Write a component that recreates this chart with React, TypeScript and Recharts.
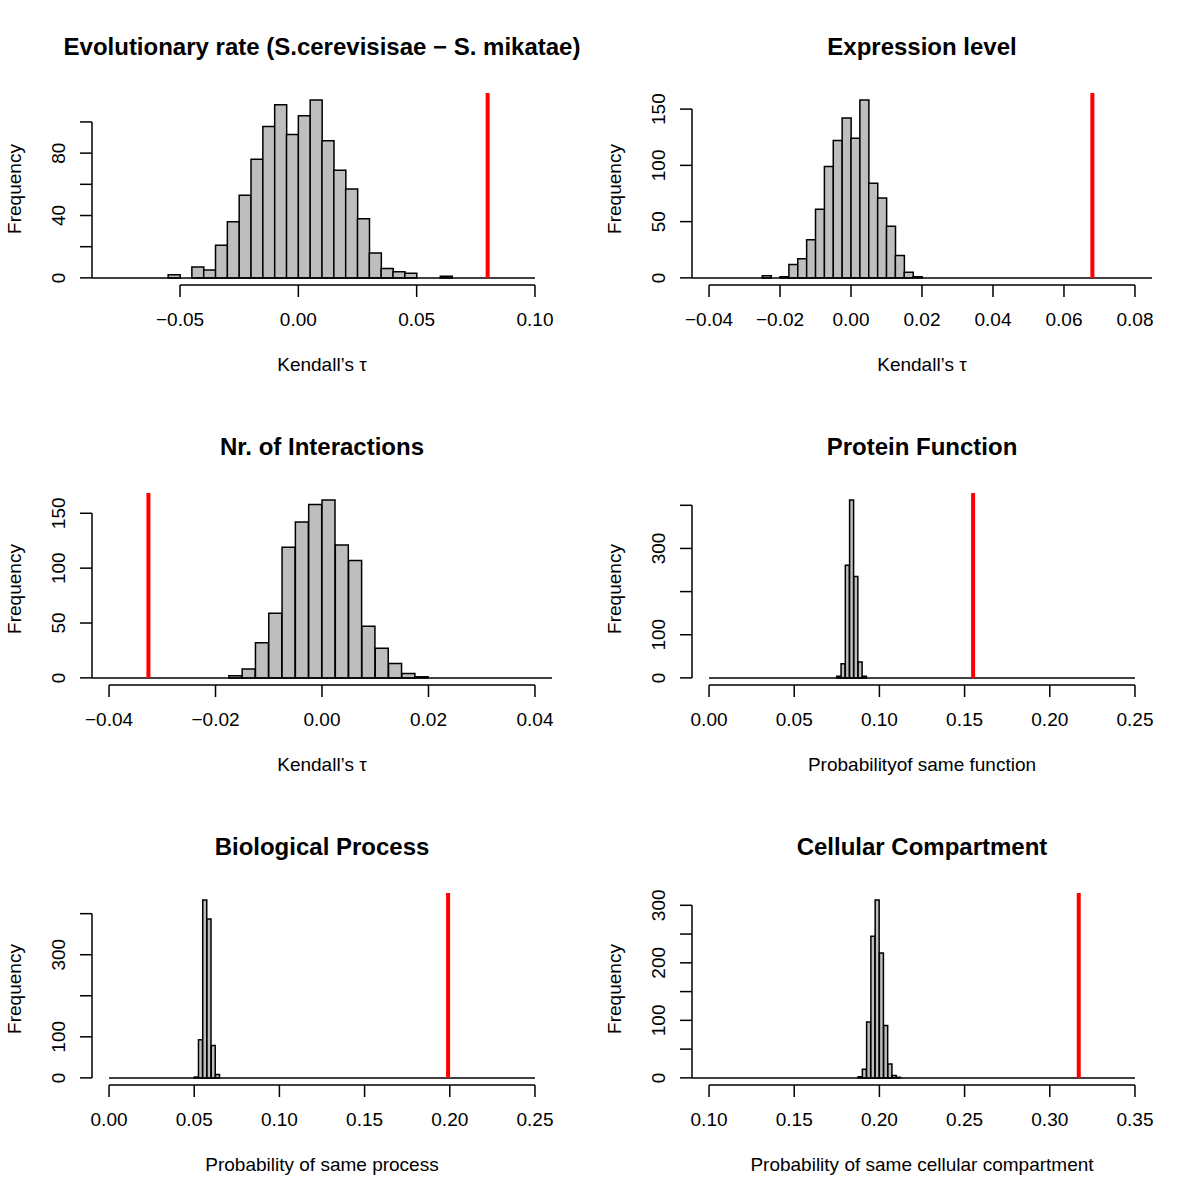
import React from "react";
import { Bar, ComposedChart, ReferenceLine, XAxis, YAxis } from "recharts";

// bin mid-points and counts
const evoMids = [-0.0525, -0.0425, -0.0375, -0.0325, -0.0275, -0.0225, -0.0175, -0.0125, -0.0075, -0.0025, 0.0025, 0.0075, 0.0125, 0.0175, 0.0225, 0.0275, 0.0325, 0.0375, 0.0425, 0.0475, 0.0625];
const evoCounts = [2, 7, 5, 21, 36, 53, 76, 97, 111, 92, 104, 114, 88, 69, 57, 38, 16, 6, 4, 3, 1];

const exprMids = [-0.02375, -0.01875, -0.01625, -0.01375, -0.01125, -0.00875, -0.00625, -0.00375, -0.00125, 0.00125, 0.00375, 0.00625, 0.00875, 0.01125, 0.01375, 0.01625, 0.01875];
const exprCounts = [2, 1, 12, 17, 34, 61, 99, 122, 142, 124, 158, 84, 71, 46, 20, 5, 1];

const interMids = [-0.01625, -0.01375, -0.01125, -0.00875, -0.00625, -0.00375, -0.00125, 0.00125, 0.00375, 0.00625, 0.00875, 0.01125, 0.01375, 0.01625, 0.01875];
const interCounts = [2, 8, 32, 59, 119, 142, 158, 162, 121, 107, 47, 27, 13, 4, 1];

const funcMids = [0.07625, 0.07875, 0.08125, 0.08375, 0.08625, 0.08875, 0.09125];
const funcCounts = [4, 33, 261, 412, 235, 37, 4];

const procMids = [0.05125, 0.05375, 0.05625, 0.05875, 0.06125, 0.06375];
const procCounts = [2, 93, 433, 387, 79, 8];

const compMids = [0.18875, 0.19125, 0.19375, 0.19625, 0.19875, 0.20125, 0.20375, 0.20625, 0.20875, 0.21125];
const compCounts = [2, 15, 97, 246, 309, 217, 91, 24, 4, 1];

// observed statistic (red line) for each panel
const observed = [0.08, 0.068, -0.0326, 0.155, 0.199, 0.317];

const titles = [
  "Evolutionary rate (S.cerevisisae \u2212 S. mikatae)",
  "Expression level",
  "Nr. of Interactions",
  "Protein Function",
  "Biological Process",
  "Cellular Compartment",
];
const xLabels = [
  "Kendall\u2019s \u03c4",
  "Kendall\u2019s \u03c4",
  "Kendall\u2019s \u03c4",
  "Probabilityof same function",
  "Probability of same process",
  "Probability of same cellular compartment",
];

const xTicks = [
  [-0.05, 0, 0.05, 0.1],
  [-0.04, -0.02, 0, 0.02, 0.04, 0.06, 0.08],
  [-0.04, -0.02, 0, 0.02, 0.04],
  [0, 0.05, 0.1, 0.15, 0.2, 0.25],
  [0, 0.05, 0.1, 0.15, 0.2, 0.25],
  [0.1, 0.15, 0.2, 0.25, 0.3, 0.35],
];
const yTicks = [
  [0, 20, 40, 60, 80, 100],
  [0, 50, 100, 150],
  [0, 50, 100, 150],
  [0, 100, 200, 300, 400],
  [0, 100, 200, 300, 400],
  [0, 50, 100, 150, 200, 250, 300],
];
// labels R kept (others dropped for overlap)
const yTickLabels = [
  [0, 40, 80],
  [0, 50, 100, 150],
  [0, 50, 100, 150],
  [0, 100, 300],
  [0, 100, 300],
  [0, 100, 200, 300],
];

const xLims = [[-0.08, 0.1], [-0.04, 0.08], [-0.04, 0.04], [0, 0.25], [0, 0.25], [0.1, 0.35]];
const yLims = [[0, 114], [0, 158], [0, 162], [0, 412], [0, 433], [0, 309]];
// range covered by the histogram breaks (drawn as the zero line)
const breaksRange = [[-0.1, 0.1], [-0.05, 0.0848], [-0.05, 0.05], [0, 0.25], [0, 0.25], [0.05, 0.35]];

const allMids = [evoMids, exprMids, interMids, funcMids, procMids, compMids];
const allCounts = [evoCounts, exprCounts, interCounts, funcCounts, procCounts, compCounts];

const FONT = "'Liberation Sans', Arial, Helvetica, sans-serif";
const LW = 1.5;
const FS = 19;

const PLOT_LEFT = 92;
const PLOT_RIGHT = 552;
const PLOT_TOP = 93;
const PLOT_BOTTOM = 285;
const Y_LAB_X = 65;
const FREQ_X = 21;

const pad = (lim: number[]) => {
  const p = (lim[1] - lim[0]) * 0.04;
  return [lim[0] - p, lim[1] + p];
};

const fmt = (v: number) => (v < 0 ? "\u2212" : "") + Math.abs(v).toFixed(2);

const Panel = ({ i }: { i: number }) => {
  const data = allMids[i].map((m, k) => ({ mid: m, count: allCounts[i][k] }));
  const xDom = pad(xLims[i]);
  const yDom = pad(yLims[i]);
  const xt = xTicks[i];
  const yt = yTicks[i];
  const base = [Math.max(breaksRange[i][0], xDom[0]), Math.min(breaksRange[i][1], xDom[1])];

  const XTick = (props: any) => (
    <text x={props.x} y={326} textAnchor="middle" fontSize={FS} fontFamily={FONT} fill="#000">
      {fmt(props.payload.value)}
    </text>
  );
  const YTick = (props: any) => {
    if (!yTickLabels[i].includes(props.payload.value)) return <g />;
    return (
      <text
        x={Y_LAB_X}
        y={props.y}
        transform={`rotate(-90, ${Y_LAB_X}, ${props.y})`}
        textAnchor="middle"
        fontSize={FS}
        fontFamily={FONT}
        fill="#000"
      >
        {props.payload.value}
      </text>
    );
  };

  return (
    <div style={{ position: "absolute", left: (i % 2) * 600, top: Math.floor(i / 2) * 400, width: 600, height: 400 }}>
      <ComposedChart
        width={600}
        height={400}
        data={data}
        margin={{ top: PLOT_TOP, right: 600 - PLOT_RIGHT, bottom: 0, left: 0 }}
        barCategoryGap={0}
        barGap={0}
      >
        <XAxis
          dataKey="mid"
          type="number"
          domain={xDom}
          allowDataOverflow
          ticks={xt}
          interval={0}
          height={400 - PLOT_BOTTOM}
          axisLine={false}
          tickSize={12}
          tickLine={{ stroke: "#000", strokeWidth: LW }}
          tick={<XTick />}
        />
        <YAxis
          type="number"
          domain={yDom}
          allowDataOverflow
          ticks={yt}
          interval={0}
          width={PLOT_LEFT}
          axisLine={false}
          tickSize={12}
          tickLine={{ stroke: "#000", strokeWidth: LW }}
          tick={<YTick />}
        />
        <ReferenceLine
          segment={[{ x: base[0], y: 0 }, { x: base[1], y: 0 }]}
          stroke="#000"
          strokeWidth={LW}
          ifOverflow="visible"
        />
        <Bar dataKey="count" fill="#bebebe" stroke="#000" strokeWidth={LW} isAnimationActive={false} />
        <ReferenceLine
          segment={[{ x: xDom[0], y: yt[0] }, { x: xDom[0], y: yt[yt.length - 1] }]}
          stroke="#000"
          strokeWidth={LW}
          ifOverflow="visible"
        />
        <ReferenceLine
          segment={[{ x: xt[0], y: yDom[0] }, { x: xt[xt.length - 1], y: yDom[0] }]}
          stroke="#000"
          strokeWidth={LW}
          ifOverflow="visible"
        />
        <ReferenceLine
          segment={[{ x: observed[i], y: 0 }, { x: observed[i], y: yDom[1] }]}
          stroke="#ff0000"
          strokeWidth={4}
          ifOverflow="visible"
        />
      </ComposedChart>
      <svg width={600} height={400} style={{ position: "absolute", left: 0, top: 0, pointerEvents: "none" }}>
        <text x={322} y={55} textAnchor="middle" fontSize={24} fontWeight="bold" fontFamily={FONT} fill="#000">
          {titles[i]}
        </text>
        <text x={322} y={371} textAnchor="middle" fontSize={FS} fontFamily={FONT} fill="#000">
          {xLabels[i]}
        </text>
        <text
          x={FREQ_X}
          y={189}
          transform={`rotate(-90, ${FREQ_X}, 189)`}
          textAnchor="middle"
          fontSize={FS}
          fontFamily={FONT}
          fill="#000"
        >
          Frequency
        </text>
      </svg>
    </div>
  );
};

export default function App() {
  return (
    <div style={{ position: "absolute", left: 0, top: 0, width: 1200, height: 1200, background: "#fff" }}>
      {[0, 1, 2, 3, 4, 5].map((i) => (
        <Panel key={i} i={i} />
      ))}
    </div>
  );
}
